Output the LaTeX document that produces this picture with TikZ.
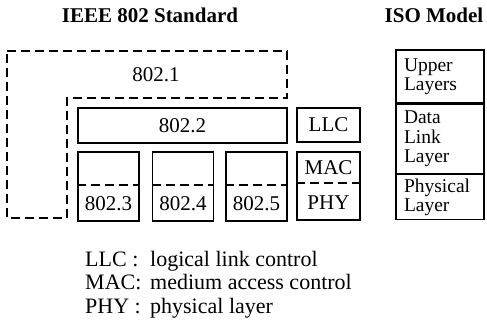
\documentclass[tikz,border=0pt]{standalone}
\usepackage{fontspec}
\setmainfont{Liberation Serif}
\usetikzlibrary{positioning}
\tikzset{
  lay/.style  ={draw, line width=1.3pt, inner sep=0pt, font=\fontsize{21}{17}\selectfont},
  subbox/.style={lay, minimum width=61pt, minimum height=69pt},
  isolay/.style={draw, line width=1.3pt, minimum width=88pt, text width=72pt,
                 inner xsep=8pt, inner ysep=0pt, align=left,
                 font=\fontsize{19.5}{19.5}\selectfont},
  dsh/.style  ={dashed, dash pattern=on 9pt off 5pt, line width=1.3pt},
  ttl/.style  ={font=\fontsize{21}{24}\selectfont\bfseries, inner sep=0pt},
  txt/.style  ={font=\fontsize{21}{17}\selectfont, inner sep=0pt},
}
\begin{document}
\begin{tikzpicture}[x=1pt,y=-1pt]
\useasboundingbox (0,0) rectangle (487,326);
% titles
\node[ttl] (ieee) at (150,15) {IEEE 802 Standard};
\node[ttl] (isot) at (434,15) {ISO Model};

% 802.1 (dashed outline)
\draw[dsh] (7,51) -- (287,51) -- (287,98) -- (67,98) -- (67,218) -- (7,218) -- cycle;
\node[txt] (s1) at (156,75) {802.1};

% 802.2 and the lower boxes
\node[lay,minimum width=209pt,minimum height=35pt] (s2) at (182.5,125.5) {802.2};
\coordinate (cut) at (0,185);
\foreach \n/\x in {3/108.5,4/183,5/256.5}{
  \node[subbox] (s\n) at (\x,186.5) {};
  \node[txt] (t\n) at (\x,204) {802.\n};
  \draw[dsh] (s\n.west |- cut) -- (s\n.east |- cut);
}

% LLC / MAC / PHY
\node[lay,minimum width=63pt,minimum height=34pt] (llc) at (328.5,125) {LLC};
\node[lay,minimum width=63pt,minimum height=68pt] (mp) at (328.5,186) {};
\node[txt] (mac) at (328.5,168) {MAC};
\node[txt] (phy) at (328.5,203) {PHY};
\draw[dsh] (mp.west |- 0,183) -- (mp.east |- 0,183);

% ISO model
\node[isolay,minimum height=53pt] (up) at (440,76.5) {Upper\\Layers};
\node[isolay,minimum height=69pt,below=0pt of up] (dl) {Data\\Link\\Layer};
\node[isolay,minimum height=45pt,below=0pt of dl] (pl) {Physical\\Layer};

% legend
\node[txt,anchor=west,font=\fontsize{22}{23.5}\selectfont] (leg) at (85,285)
  {\begin{tabular}{@{}p{65pt}@{}l@{}}
   LLC : & logical link control\\
   MAC: & medium access control\\
   PHY : & physical layer
   \end{tabular}};
\end{tikzpicture}
\end{document}
